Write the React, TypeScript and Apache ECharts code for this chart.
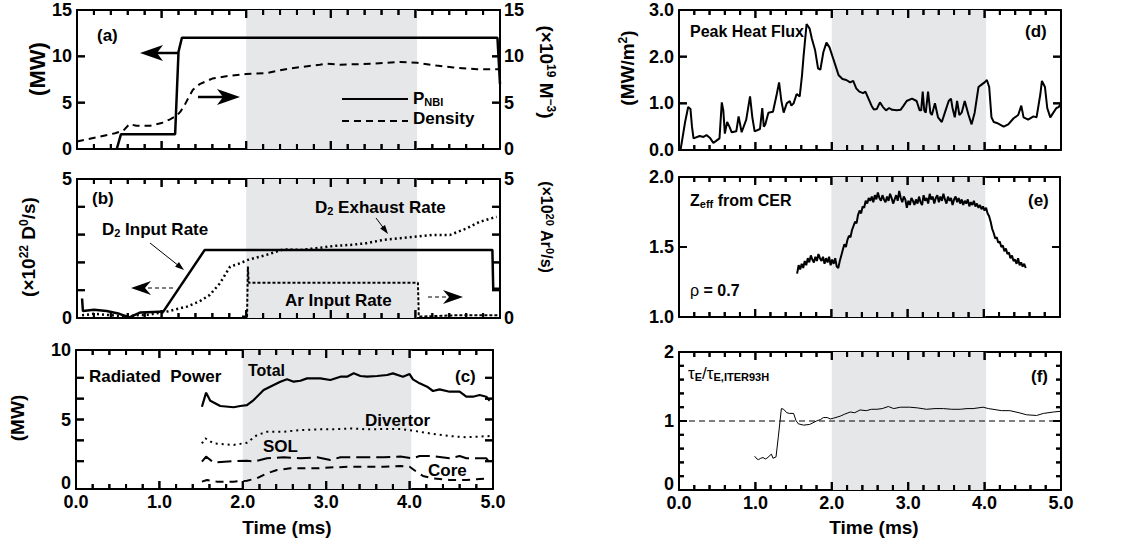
import React, { useEffect, useRef } from "react";
import * as echarts from "echarts";

const FONT = "'Liberation Sans', Arial, Helvetica, sans-serif";
const SHADE_FROM = 2.0;
const SHADE_TO = 4.02;
const SHADE_COLOR = "#e6e7e9";

// ---------- (a) ----------
const pnbi: number[][] = [[0.47, 0], [0.52, 1.6], [1.16, 1.6], [1.2, 10.5], [1.24, 12], [4.97, 12], [5.0, 7]];
const density: number[][] = [[0, 0.8], [0.25, 1.3], [0.45, 1.7], [0.55, 2.0], [0.62, 2.7], [0.7, 2.5], [0.86, 2.5], [1.0, 2.8], [1.1, 3.2], [1.18, 3.6], [1.22, 4.0], [1.27, 4.7], [1.31, 5.4], [1.37, 6.4], [1.45, 7.0], [1.6, 7.6], [1.8, 7.9], [2.0, 8.1], [2.24, 8.2], [2.52, 8.7], [2.87, 9.1], [2.95, 9.2], [3.11, 9.1], [3.5, 9.2], [3.82, 9.4], [4.02, 9.3], [4.25, 9.0], [4.45, 8.8], [4.73, 8.6], [5.0, 8.6]];

// ---------- (b) ----------
const d2Input: number[][] = [[0.06, 0.7], [0.07, 0.25], [0.2, 0.3], [0.35, 0.25], [0.5, 0.15], [0.62, 0.02], [0.75, 0.2], [0.9, 0.22], [1.02, 0.23], [1.51, 2.45], [4.91, 2.45], [4.92, 1.05], [5.0, 1.05]];
const d2Exhaust: number[][] = [[0.06, 0.1], [0.2, 0.15], [0.4, 0.1], [0.55, 0.05], [0.7, 0.1], [0.85, 0.12], [1.06, 0.23], [1.3, 0.41], [1.45, 0.6], [1.57, 0.83], [1.69, 1.25], [1.81, 1.85], [1.93, 1.97], [2.02, 2.09], [2.24, 2.27], [2.44, 2.47], [2.64, 2.45], [2.83, 2.51], [3.03, 2.59], [3.23, 2.63], [3.42, 2.69], [3.62, 2.81], [3.82, 2.87], [4.02, 2.93], [4.21, 2.99], [4.41, 2.99], [4.61, 3.23], [4.76, 3.46], [4.96, 3.64]];
const arInput: number[][] = [[1.95, 0.05], [2.01, 0.05], [2.02, 1.85], [2.03, 1.27], [4.03, 1.27], [4.04, 0.05], [4.5, 0.1], [5.0, 0.1]];

// ---------- (c) ----------
const radTotal: number[][] = [[1.51, 5.92], [1.56, 6.93], [1.61, 6.35], [1.73, 5.97], [1.89, 5.88], [1.97, 5.97], [2.05, 6.04], [2.13, 6.4], [2.25, 7.12], [2.37, 7.48], [2.45, 7.72], [2.53, 7.89], [2.61, 7.72], [2.69, 7.79], [2.77, 7.96], [2.93, 7.96], [3.05, 7.84], [3.17, 8.08], [3.25, 8.08], [3.33, 8.32], [3.41, 8.13], [3.49, 8.08], [3.61, 8.13], [3.73, 8.2], [3.8, 8.32], [3.92, 8.08], [4.0, 8.27], [4.04, 7.89], [4.12, 7.6], [4.21, 7.36], [4.28, 7.05], [4.36, 7.17], [4.48, 7.0], [4.6, 7.0], [4.68, 6.64], [4.76, 6.64], [4.84, 6.76], [4.92, 6.64], [4.96, 6.35]];
const radDivertor: number[][] = [[1.51, 3.28], [1.55, 3.65], [1.65, 3.28], [1.89, 3.17], [2.05, 3.33], [2.17, 3.88], [2.29, 4.12], [2.49, 4.12], [2.69, 4.24], [2.89, 4.29], [3.09, 4.29], [3.29, 4.36], [3.49, 4.29], [3.69, 4.32], [3.89, 4.32], [4.04, 4.2], [4.28, 3.96], [4.48, 3.81], [4.68, 3.72], [4.96, 3.81]];
const radSOL: number[][] = [[1.51, 1.97], [1.56, 2.33], [1.65, 1.9], [1.89, 2.01], [2.05, 2.04], [2.13, 1.97], [2.29, 2.21], [2.49, 2.28], [2.69, 2.21], [2.89, 2.28], [3.05, 2.09], [3.17, 2.28], [3.49, 2.28], [3.69, 2.28], [3.89, 2.33], [4.04, 2.21], [4.12, 2.37], [4.28, 2.37], [4.48, 2.21], [4.6, 2.37], [4.68, 2.21], [4.92, 2.21], [4.96, 1.9]];
const radCore: number[][] = [[1.51, 0.53], [1.57, 0.65], [1.69, 0.53], [1.89, 0.53], [2.05, 0.6], [2.17, 0.77], [2.29, 1.13], [2.41, 1.37], [2.57, 1.49], [2.69, 1.49], [2.89, 1.49], [3.09, 1.56], [3.29, 1.6], [3.49, 1.6], [3.69, 1.6], [3.89, 1.65], [4.0, 1.6], [4.08, 1.25], [4.16, 0.94], [4.28, 0.77], [4.48, 0.65], [4.68, 0.65], [4.96, 0.77]];

// ---------- (d) ----------
const peakHeatFlux: number[][] = [[0.0, 0.0], [0.02, 0.0], [0.08, 0.6], [0.12, 0.92], [0.15, 0.88], [0.17, 0.5], [0.19, 0.25], [0.27, 0.3], [0.32, 0.28], [0.36, 0.32], [0.41, 0.25], [0.45, 0.15], [0.49, 0.2], [0.53, 0.25], [0.56, 1.02], [0.58, 0.85], [0.6, 0.35], [0.63, 0.6], [0.66, 0.5], [0.69, 0.38], [0.75, 0.4], [0.78, 0.72], [0.8, 0.55], [0.82, 0.38], [0.88, 0.65], [0.93, 1.15], [0.96, 0.7], [0.99, 0.4], [1.06, 0.45], [1.09, 0.9], [1.11, 0.5], [1.13, 0.55], [1.17, 0.8], [1.23, 0.82], [1.28, 1.2], [1.31, 1.45], [1.34, 1.05], [1.37, 0.8], [1.41, 1.0], [1.45, 1.05], [1.47, 0.95], [1.5, 1.0], [1.54, 1.2], [1.58, 1.15], [1.61, 1.6], [1.63, 2.0], [1.67, 2.7], [1.71, 2.6], [1.74, 2.38], [1.78, 2.15], [1.82, 1.75], [1.85, 1.72], [1.89, 2.1], [1.93, 2.3], [1.97, 2.2], [2.02, 1.95], [2.06, 1.75], [2.09, 1.6], [2.14, 1.52], [2.19, 1.5], [2.24, 1.45], [2.28, 1.48], [2.32, 1.32], [2.36, 1.25], [2.41, 1.22], [2.44, 1.25], [2.48, 1.1], [2.52, 0.95], [2.55, 0.87], [2.59, 0.88], [2.63, 1.02], [2.67, 0.92], [2.71, 0.85], [2.75, 0.9], [2.79, 0.86], [2.85, 0.85], [2.9, 0.86], [2.94, 0.95], [2.98, 1.05], [3.05, 1.1], [3.11, 1.05], [3.15, 0.85], [3.17, 0.85], [3.19, 1.25], [3.21, 0.85], [3.23, 0.8], [3.26, 1.25], [3.29, 0.8], [3.31, 0.75], [3.35, 1.0], [3.39, 0.7], [3.44, 0.6], [3.48, 0.8], [3.53, 1.05], [3.56, 1.1], [3.58, 0.9], [3.61, 0.7], [3.64, 1.05], [3.67, 0.75], [3.7, 0.8], [3.74, 1.05], [3.79, 0.75], [3.83, 0.55], [3.87, 0.8], [3.92, 1.35], [3.96, 1.4], [4.0, 1.45], [4.03, 1.5], [4.06, 1.35], [4.09, 0.7], [4.12, 0.6], [4.16, 0.58], [4.25, 0.5], [4.31, 0.55], [4.38, 0.68], [4.44, 0.75], [4.48, 0.95], [4.51, 0.7], [4.57, 0.65], [4.64, 0.72], [4.68, 0.7], [4.73, 1.2], [4.75, 1.48], [4.79, 1.35], [4.82, 0.9], [4.86, 0.7], [4.9, 0.8], [4.94, 0.9], [4.97, 0.92], [5.0, 1.0]];

// ---------- (e) ----------
const zeff: number[][] = [[1.55, 1.31], [1.57, 1.37], [1.59, 1.34], [1.61, 1.38], [1.63, 1.35], [1.65, 1.4], [1.67, 1.37], [1.69, 1.42], [1.71, 1.39], [1.73, 1.44], [1.75, 1.41], [1.77, 1.39], [1.79, 1.43], [1.81, 1.4], [1.83, 1.45], [1.85, 1.42], [1.87, 1.4], [1.89, 1.43], [1.91, 1.38], [1.93, 1.42], [1.95, 1.39], [1.97, 1.43], [1.99, 1.37], [2.01, 1.41], [2.03, 1.38], [2.05, 1.42], [2.07, 1.36], [2.09, 1.35], [2.11, 1.4], [2.13, 1.44], [2.15, 1.48], [2.17, 1.52], [2.19, 1.5], [2.21, 1.55], [2.23, 1.58], [2.25, 1.57], [2.27, 1.62], [2.29, 1.65], [2.31, 1.68], [2.33, 1.67], [2.35, 1.73], [2.37, 1.76], [2.39, 1.74], [2.41, 1.79], [2.43, 1.78], [2.45, 1.83], [2.47, 1.81], [2.49, 1.85], [2.51, 1.83], [2.53, 1.86], [2.55, 1.82], [2.57, 1.87], [2.59, 1.84], [2.61, 1.89], [2.63, 1.85], [2.65, 1.83], [2.67, 1.87], [2.69, 1.84], [2.71, 1.82], [2.73, 1.86], [2.75, 1.83], [2.77, 1.88], [2.79, 1.85], [2.81, 1.81], [2.83, 1.84], [2.85, 1.87], [2.87, 1.83], [2.89, 1.9], [2.91, 1.85], [2.93, 1.82], [2.95, 1.86], [2.97, 1.84], [2.99, 1.78], [3.01, 1.83], [3.03, 1.8], [3.05, 1.85], [3.07, 1.83], [3.09, 1.8], [3.11, 1.84], [3.13, 1.81], [3.15, 1.86], [3.17, 1.82], [3.19, 1.8], [3.21, 1.87], [3.23, 1.83], [3.25, 1.85], [3.27, 1.81], [3.29, 1.88], [3.31, 1.84], [3.33, 1.86], [3.35, 1.81], [3.37, 1.85], [3.39, 1.87], [3.41, 1.82], [3.43, 1.86], [3.45, 1.83], [3.47, 1.88], [3.49, 1.84], [3.51, 1.81], [3.53, 1.86], [3.55, 1.83], [3.57, 1.85], [3.59, 1.8], [3.61, 1.84], [3.63, 1.86], [3.65, 1.82], [3.67, 1.85], [3.69, 1.81], [3.71, 1.84], [3.73, 1.8], [3.75, 1.83], [3.77, 1.81], [3.79, 1.84], [3.81, 1.79], [3.83, 1.82], [3.85, 1.8], [3.87, 1.83], [3.89, 1.79], [3.91, 1.81], [3.93, 1.78], [3.95, 1.8], [3.97, 1.77], [3.99, 1.79], [4.01, 1.76], [4.03, 1.78], [4.05, 1.74], [4.07, 1.72], [4.09, 1.68], [4.11, 1.63], [4.13, 1.6], [4.15, 1.56], [4.17, 1.57], [4.19, 1.53], [4.21, 1.54], [4.23, 1.5], [4.25, 1.51], [4.27, 1.47], [4.29, 1.49], [4.31, 1.45], [4.33, 1.46], [4.35, 1.42], [4.37, 1.44], [4.39, 1.4], [4.41, 1.41], [4.43, 1.38], [4.45, 1.42], [4.47, 1.37], [4.49, 1.39], [4.51, 1.36], [4.53, 1.38], [4.55, 1.35]];

// ---------- (f) ----------
const tauRatio: number[][] = [[0.99, 0.49], [1.02, 0.45], [1.04, 0.44], [1.07, 0.46], [1.1, 0.47], [1.13, 0.45], [1.15, 0.46], [1.19, 0.5], [1.21, 0.52], [1.23, 0.46], [1.27, 0.48], [1.3, 0.77], [1.34, 1.18], [1.37, 1.17], [1.41, 1.12], [1.45, 1.11], [1.5, 1.11], [1.53, 1.01], [1.56, 0.96], [1.63, 0.94], [1.71, 0.95], [1.8, 1.0], [1.85, 1.02], [1.89, 1.05], [1.94, 1.05], [1.98, 1.03], [2.02, 1.04], [2.11, 1.07], [2.17, 1.1], [2.24, 1.13], [2.3, 1.12], [2.37, 1.16], [2.45, 1.15], [2.52, 1.17], [2.59, 1.17], [2.66, 1.18], [2.74, 1.21], [2.81, 1.18], [2.9, 1.2], [3.02, 1.2], [3.12, 1.19], [3.24, 1.17], [3.35, 1.18], [3.46, 1.18], [3.57, 1.17], [3.68, 1.17], [3.77, 1.18], [3.85, 1.18], [3.98, 1.2], [4.05, 1.18], [4.11, 1.17], [4.22, 1.15], [4.33, 1.15], [4.45, 1.12], [4.55, 1.09], [4.68, 1.08], [4.77, 1.11], [4.9, 1.13], [4.99, 1.14]];
const tauReference: number[][] = [[0, 1], [5, 1]];

// ---------- tick positions ----------
const xMajorTicks = [1, 2, 3, 4];
const xMinorTicks = [0.2, 0.4, 0.6, 0.8, 1.2, 1.4, 1.6, 1.8, 2.2, 2.4, 2.6, 2.8, 3.2, 3.4, 3.6, 3.8, 4.2, 4.4, 4.6, 4.8];
const yTicksA = [5, 10];
const yTicksB = [1, 2, 3, 4];
const yTicksC = [2, 3.5, 5, 6.5, 8];
const yTicksD = [1, 2];
const yTicksE = [1.5];
const yTicksF = [1];
const yMinorTicksF = [0.2, 0.4, 0.6, 0.8, 1.2, 1.4, 1.6, 1.8];

const xTickFmt = (v: number) => v.toFixed(1);

type Pt = number[][];

function App() {
  const ref = useRef<HTMLDivElement>(null);
  useEffect(() => {
    if (!ref.current) return;
    const chart = echarts.init(ref.current, undefined, { renderer: "svg" });

    const grids = [
      { left: 77, top: 10, width: 423, height: 139 },
      { left: 77, top: 179, width: 423, height: 139 },
      { left: 76, top: 350, width: 417, height: 139 },
      { left: 679, top: 10, width: 382, height: 140 },
      { left: 679, top: 177, width: 381, height: 140 },
      { left: 679, top: 352, width: 382, height: 138 },
    ];

    const axLine = () => ({ show: true, onZero: false, lineStyle: { color: "#000", width: 2 } });
    const lbl = (show: boolean, formatter: any, margin: number, rich: any = undefined) => ({
      show, formatter, margin, color: "#000", fontFamily: FONT, fontWeight: "bold", fontSize: 18, ...(rich ? { rich } : {}),
    });

    const xAxes: any[] = [];
    const yAxes: any[] = [];
    const xLabelsOn = [false, false, true, false, false, true];
    grids.forEach((_, gi) => {
      ["bottom", "top"].forEach((pos) => {
        xAxes.push({
          type: "value", gridIndex: gi, min: 0, max: 5, interval: 1, position: pos,
          axisLine: axLine(), axisTick: { show: false }, splitLine: { show: false },
          axisLabel: lbl(pos === "bottom" && xLabelsOn[gi], xTickFmt, 4),
        });
      });
    });

    const yDefs = [
      { min: 0, max: 15, interval: 5, fmt: (v: number) => String(v), right: true, raise: false, ticks: yTicksA, minor: [] as number[] },
      { min: 0, max: 5, interval: 5, fmt: (v: number) => String(v), right: true, raise: false, ticks: yTicksB, minor: [] as number[] },
      { min: 0, max: 10, interval: 5, fmt: (v: number) => String(v), right: false, raise: true, ticks: yTicksC, minor: [] as number[] },
      { min: 0, max: 3, interval: 1, fmt: (v: number) => v.toFixed(1), right: false, raise: false, ticks: yTicksD, minor: [] as number[] },
      { min: 1, max: 2, interval: 0.5, fmt: (v: number) => v.toFixed(1), right: false, raise: false, ticks: yTicksE, minor: [] as number[] },
      { min: 0, max: 2, interval: 1, fmt: (v: number) => String(v), right: false, raise: true, ticks: yTicksF, minor: yMinorTicksF },
    ];
    yDefs.forEach((d, gi) => {
      const loRich = { lo: { color: "#000", fontFamily: FONT, fontWeight: "bold", fontSize: 18, padding: [0, 0, 12, 0] } };
      const fmt = d.raise ? (v: number) => (v === d.min ? `{lo|${d.fmt(v)}}` : d.fmt(v)) : d.fmt;
      yAxes.push({
        type: "value", gridIndex: gi, min: d.min, max: d.max, interval: d.interval, position: "left",
        axisLine: axLine(), axisTick: { show: false }, splitLine: { show: false },
        axisLabel: lbl(true, fmt, 5, loRich),
      });
      yAxes.push({
        type: "value", gridIndex: gi, min: d.min, max: d.max, interval: d.interval, position: "right",
        axisLine: axLine(), axisTick: { show: false }, splitLine: { show: false },
        axisLabel: lbl(d.right, d.fmt, 4),
      });
    });

    // inward tick marks drawn as polylines through each grid's own scales (custom series)
    const tickSeries = (gi: number) => {
      const d = yDefs[gi];
      const data: number[][] = [];
      xMajorTicks.forEach((v) => data.push([v, d.min, 8, 0]));
      xMinorTicks.forEach((v) => data.push([v, d.min, 5, 0]));
      d.ticks.forEach((v) => data.push([0, v, 8, 1]));
      d.minor.forEach((v) => data.push([0, v, 5, 1]));
      return {
        type: "custom", name: `ticks-${gi}`, xAxisIndex: 2 * gi, yAxisIndex: 2 * gi, silent: true, z: 6, clip: false,
        encode: { x: 0, y: 1 }, data,
        renderItem: (_p: any, api: any) => {
          const v0 = api.value(0), v1 = api.value(1), len = api.value(2), o = api.value(3);
          const st = { stroke: "#000", lineWidth: 2, fill: null };
          if (o === 0) {
            const a = api.coord([v0, d.min]);
            const b = api.coord([v0, d.max]);
            return {
              type: "group", children: [
                { type: "polyline", shape: { points: [[a[0], a[1]], [a[0], a[1] - len]] }, style: st },
                { type: "polyline", shape: { points: [[b[0], b[1]], [b[0], b[1] + len]] }, style: st },
              ],
            };
          }
          const a = api.coord([0, v1]);
          const b = api.coord([5, v1]);
          return {
            type: "group", children: [
              { type: "polyline", shape: { points: [[a[0], a[1]], [a[0] + len, a[1]]] }, style: st },
              { type: "polyline", shape: { points: [[b[0], b[1]], [b[0] - len, b[1]]] }, style: st },
            ],
          };
        },
      };
    };

    const ln = (name: string, data: Pt, gi: number, right: boolean, width: number, dash: any = "solid", shade = false) => {
      const s: any = {
        name, type: "line", xAxisIndex: 2 * gi, yAxisIndex: 2 * gi + (right ? 1 : 0), data,
        symbol: "none", showSymbol: false, silent: true,
        lineStyle: { color: "#000", width, type: dash, cap: "butt" },
      };
      if (shade) {
        s.markArea = { silent: true, itemStyle: { color: SHADE_COLOR }, data: [[{ xAxis: SHADE_FROM }, { xAxis: SHADE_TO }]] };
      }
      return s;
    };

    const series: any[] = [
      ln("P_NBI", pnbi, 0, false, 2.5, "solid", true),
      ln("Density", density, 0, true, 2, [7, 5]),
      ln("D2 Input Rate", d2Input, 1, false, 2.5, "solid", true),
      ln("D2 Exhaust Rate", d2Exhaust, 1, false, 2.5, [2, 3]),
      ln("Ar Input Rate", arInput, 1, true, 2, [3, 2]),
      ln("Total", radTotal, 2, false, 2.2, "solid", true),
      ln("Divertor", radDivertor, 2, false, 2, [2, 4]),
      ln("SOL", radSOL, 2, false, 2, [14, 6]),
      ln("Core", radCore, 2, false, 2, [8, 6]),
      ln("Peak Heat Flux", peakHeatFlux, 3, false, 2, "solid", true),
      ln("Zeff", zeff, 4, false, 2, "solid", true),
      ln("tauE ratio", tauRatio, 5, false, 1, "solid", true),
      ln("tau reference", tauReference, 5, false, 1, [6, 4]),
    ];
    grids.forEach((_, gi) => series.push(tickSeries(gi)));

    const bold = (size: number) => ({ fontSize: size, fontWeight: "bold", fontFamily: FONT, fill: "#000", lineHeight: size + 2 });
    const sup = (size: number) => ({ fontSize: size, fontWeight: "bold", fontFamily: FONT, fill: "#000", verticalAlign: "top", lineHeight: size + 1 });
    const sub = (size: number) => ({ fontSize: size, fontWeight: "bold", fontFamily: FONT, fill: "#000", verticalAlign: "bottom", lineHeight: size + 1 });

    const txt = (x: number, y: number, text: string, size: number, align = "left", rot = 0, rich: any = null) => ({
      type: "text", x, y, rotation: rot, silent: true, z: 10,
      style: {
        text, fill: "#000", font: `bold ${size}px ${FONT}`, fontSize: size, fontWeight: "bold", fontFamily: FONT,
        align, verticalAlign: "middle", textAlign: align, textVerticalAlign: "middle",
        ...(rich ? { rich } : {}),
      },
    });
    const richSet = (size: number, small: number) => ({ b: bold(size), p: sup(small), s: sub(small), g: { fontSize: size, fontFamily: FONT, fill: "#000", lineHeight: size + 2 } });

    const pl = (points: number[][], width: number, dash: any = null) => ({
      type: "polyline", silent: true, z: 10, shape: { points },
      style: { stroke: "#000", lineWidth: width, fill: null, lineDash: dash },
    });
    const pg = (points: number[][]) => ({ type: "polygon", silent: true, z: 10, shape: { points }, style: { fill: "#000", stroke: null } });

    const graphics: any[] = [
      // (a)
      txt(97, 35, "(a)", 17),
      pl([[179, 53], [152, 53]], 2.5), pg([[140, 53], [163, 45], [157, 53], [163, 61]]),
      pl([[198, 97], [226, 97]], 2.5), pg([[240, 97], [217, 89], [223, 97], [217, 105]]),
      pl([[342, 99], [408, 99]], 2), pl([[342, 121], [408, 121]], 2, [7, 5]),
      txt(413, 98, "{b|P}{s|NBI}", 17, "left", 0, richSet(17, 11)),
      txt(413, 118, "Density", 17),
      txt(37, 69, "(MW)", 22, "center", Math.PI / 2),
      txt(546, 72, "{b|(×10}{p|19}{b| M}{p|−3}{b|)}", 19, "center", -Math.PI / 2, richSet(19, 12)),
      // (b)
      txt(92, 198, "(b)", 17),
      txt(102, 229, "{b|D}{s|2}{b| Input Rate}", 17, "left", 0, richSet(17, 11)),
      pl([[150, 243], [179, 266]], 1), pg([[184, 270], [175.1, 266.7], [178.9, 262.1]]),
      txt(315, 207, "{b|D}{s|2}{b| Exhaust Rate}", 17, "left", 0, richSet(17, 11)),
      pl([[376, 218], [385, 230]], 1), pg([[388, 234], [380.2, 228.6], [385, 225]]),
      pl([[173, 288], [146, 288]], 1, [4, 3]), pg([[131, 288], [151, 281], [145, 288], [151, 295]]),
      txt(285, 300, "Ar Input Rate", 17),
      pl([[428, 297], [447, 297]], 1, [4, 3]), pg([[463, 297], [443, 290], [449, 297], [443, 304]]),
      txt(28, 247, "{b|(×10}{p|22}{b| D}{p|0}{b|/s)}", 19, "center", Math.PI / 2, richSet(19, 12)),
      txt(546, 227, "{b|(×10}{p|20}{b| Ar}{p|0}{b|/s)}", 16, "center", -Math.PI / 2, richSet(16, 11)),
      // (c)
      txt(89, 376, "Radiated  Power", 17),
      txt(248, 370, "Total", 16),
      txt(455, 376, "(c)", 17),
      txt(365, 420, "Divertor", 17),
      txt(263, 446, "SOL", 17),
      txt(428, 470, "Core", 17),
      txt(17, 418, "(MW)", 19, "center", Math.PI / 2),
      txt(287, 527, "Time (ms)", 19, "center"),
      // (d)
      txt(690, 31, "Peak Heat Flux", 16),
      txt(1025, 31, "(d)", 17),
      txt(627, 68, "{b|(MW/m}{p|2}{b|)}", 19, "center", Math.PI / 2, richSet(19, 12)),
      // (e)
      txt(690, 200, "{b|Z}{s|eff}{b| from CER}", 16, "left", 0, richSet(16, 11)),
      txt(1028, 200, "(e)", 17),
      txt(690, 290, "{g|ρ}{b| = 0.7}", 16, "left", 0, richSet(16, 11)),
      // (f)
      txt(688, 373, "{g|τ}{s|E}{g|/τ}{s|E,ITER93H}", 17, "left", 0, richSet(17, 11)),
      txt(1031, 376, "(f)", 17),
      txt(874, 527, "Time (ms)", 19, "center"),
    ];

    chart.setOption({
      animation: false,
      grid: grids.map((g) => ({ ...g, containLabel: false, show: false })),
      xAxis: xAxes,
      yAxis: yAxes,
      series,
      graphic: { elements: graphics },
    });

    // Same inward ticks also as graphic polylines, placed with the grids' own scales.
    const tickEls: any[] = [];
    const tickLine = (x1: number, y1: number, x2: number, y2: number) => pl([[x1, y1], [x2, y2]], 2);
    grids.forEach((_, gi) => {
      const d = yDefs[gi];
      const finder = { xAxisIndex: 2 * gi, yAxisIndex: 2 * gi };
      const xTick = (v: number, len: number) => {
        const a = chart.convertToPixel(finder as any, [v, d.min]) as number[];
        const b = chart.convertToPixel(finder as any, [v, d.max]) as number[];
        if (!a || !b || !isFinite(a[0]) || !isFinite(b[1])) return;
        tickEls.push(tickLine(a[0], a[1], a[0], a[1] - len));
        tickEls.push(tickLine(b[0], b[1], b[0], b[1] + len));
      };
      const yTick = (v: number, len: number) => {
        const a = chart.convertToPixel(finder as any, [0, v]) as number[];
        const b = chart.convertToPixel(finder as any, [5, v]) as number[];
        if (!a || !b || !isFinite(a[1]) || !isFinite(b[0])) return;
        tickEls.push(tickLine(a[0], a[1], a[0] + len, a[1]));
        tickEls.push(tickLine(b[0], b[1], b[0] - len, b[1]));
      };
      xMajorTicks.forEach((v) => xTick(v, 8));
      xMinorTicks.forEach((v) => xTick(v, 5));
      d.ticks.forEach((v) => yTick(v, 8));
      d.minor.forEach((v) => yTick(v, 5));
    });
    if (tickEls.length) chart.setOption({ graphic: { elements: [...graphics, ...tickEls] } });

    return () => chart.dispose();
  }, []);
  return <div ref={ref} style={{ position: "absolute", left: 0, top: 0, width: 1136, height: 550 }} />;
}

export default App;
